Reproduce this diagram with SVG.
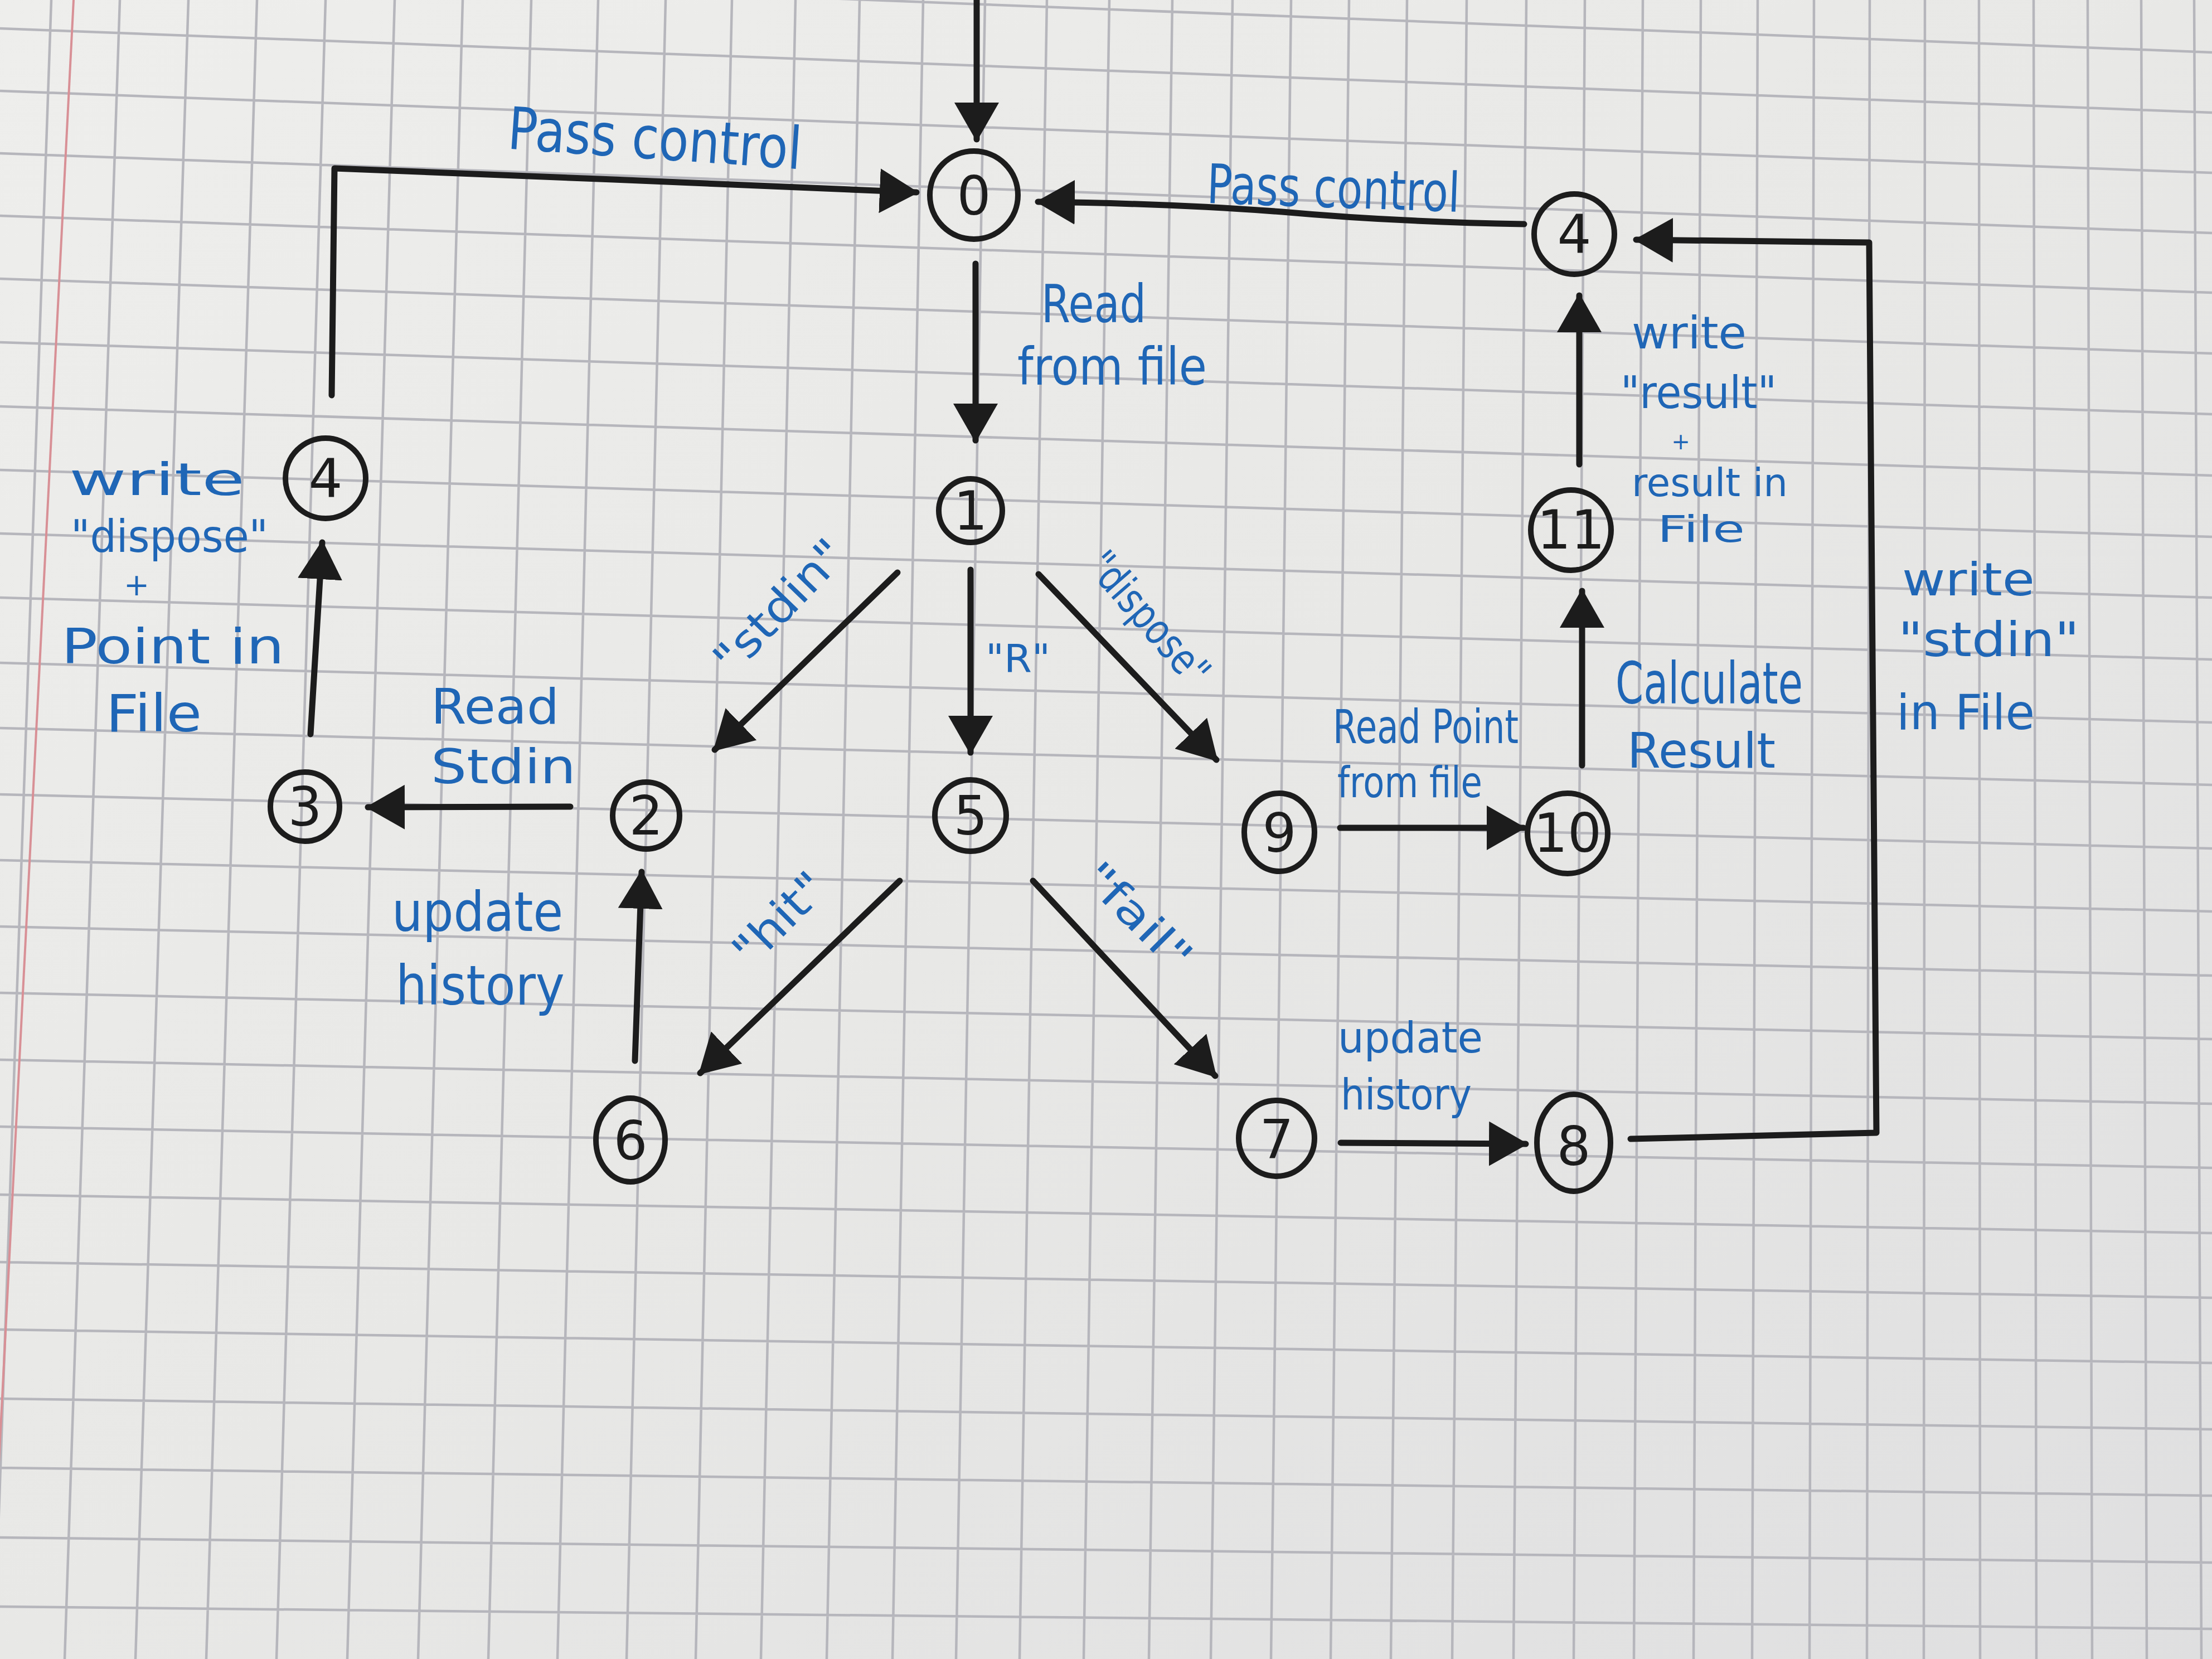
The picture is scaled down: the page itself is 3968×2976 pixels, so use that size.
<svg xmlns="http://www.w3.org/2000/svg" width="3968" height="2976" viewBox="0 0 3968 2976">
<defs>
<linearGradient id="paper" x1="0" y1="0" x2="1" y2="1">
<stop offset="0" stop-color="#EEEEEC"/>
<stop offset="0.5" stop-color="#E8E8E6"/>
<stop offset="1" stop-color="#DFDFE0"/>
</linearGradient>
<marker id="ah" viewBox="0 0 70 80" refX="66" refY="40" markerWidth="70" markerHeight="80" markerUnits="userSpaceOnUse" orient="auto">
<path d="M0,0 L70,40 L0,80 Z" fill="#1C1C1C"/>
</marker>
<style>
.grid{fill:none;stroke:#B6B6BC;stroke-width:4.5}
.margin{fill:none;stroke:#D89096;stroke-width:4}
.node circle,.node ellipse{fill:none;stroke:#1C1C1C;stroke-width:10}
.node text{font-family:"DejaVu Sans","Liberation Sans",sans-serif;fill:#1C1C1C;text-anchor:middle;font-size:96px}
.edge{fill:none;stroke:#1C1C1C;stroke-width:11;stroke-linecap:round;stroke-linejoin:round;marker-end:url(#ah)}
.lbl{font-family:"DejaVu Sans","Liberation Sans",sans-serif;fill:#1F66B6}
</style>
</defs>
<rect x="0" y="0" width="3968" height="2976" fill="url(#paper)"/>
<path class="grid" d="M0,-61L3968,94M0,51L3968,202M0,163L3968,310M0,275L3968,418M0,387L3968,525M0,500L3968,634M0,614L3968,743M0,729L3968,853M0,843L3968,963M0,957L3968,1072M0,1072L3968,1183M0,1189L3968,1296M0,1306L3968,1408M0,1425L3968,1522M0,1543L3968,1635M0,1662L3968,1750M0,1781L3968,1864M0,1901L3968,1980M0,2021L3968,2095M0,2143L3968,2212M0,2264L3968,2328M0,2385L3968,2445M0,2509L3968,2564M0,2633L3968,2683M0,2758L3968,2803M0,2882L3968,2922
M92,0L-11,2976M215,0L116,2976M338,0L243,2976M461,0L370,2976M584,0L496,2976M708,0L623,2976M830,0L750,2976M953,0L876,2976M1073,0L1000,2976M1194,0L1124,2976M1313,0L1248,2976M1427,0L1365,2976M1542,0L1483,2976M1656,0L1601,2976M1767,0L1715,2976M1878,0L1829,2976M1990,0L1944,2976M2103,0L2061,2976M2211,0L2172,2976M2316,0L2280,2976M2420,0L2387,2976M2524,0L2495,2976M2631,0L2605,2976M2738,0L2715,2976M2843,0L2823,2976M2947,0L2931,2976M3051,0L3038,2976M3153,0L3143,2976M3254,0L3246,2976M3354,0L3349,2976M3453,0L3451,2976M3550,0L3552,2976M3648,0L3653,2976M3745,0L3753,2976M3841,0L3851,2976M3936,0L3949,2976"/>
<path class="margin" d="M132,0L-20,2976"/>

<g id="connectors">
<path class="edge" d="M1752,0 L1752,250"/>
<path class="edge" d="M595,709 L600,302 L1100,322 L1644,345"/>
<path class="edge" d="M2734,402 Q2500,398 2300,380 Q2100,365 1862,362"/>
<path class="edge" d="M2925,2043 L3366,2032 L3353,435 L2935,430"/>
<path class="edge" d="M1750,473 L1750,790"/>
<path class="edge" d="M1610,1027 L1282,1345"/>
<path class="edge" d="M1741,1022 L1741,1350"/>
<path class="edge" d="M1863,1030 L2182,1363"/>
<path class="edge" d="M1023,1447 L660,1448"/>
<path class="edge" d="M557,1317 L578,973"/>
<path class="edge" d="M1139,1903 L1151,1564"/>
<path class="edge" d="M1614,1580 L1256,1925"/>
<path class="edge" d="M1853,1580 L2180,1930"/>
<path class="edge" d="M2405,2050 L2737,2052"/>
<path class="edge" d="M2404,1485 L2733,1485"/>
<path class="edge" d="M2838,1373 L2838,1060"/>
<path class="edge" d="M2833,833 L2833,530"/>
</g>

<g id="n0" class="node"><circle cx="1747" cy="350" r="79"/><text x="1747" y="385">0</text></g>
<g id="n1" class="node"><circle cx="1741" cy="916" r="57"/><text x="1741" y="950" font-size="86">1</text></g>
<g id="n2" class="node"><circle cx="1159" cy="1463" r="60"/><text x="1159" y="1497" font-size="86">2</text></g>
<g id="n3" class="node"><circle cx="547" cy="1447" r="62"/><text x="547" y="1481" font-size="86">3</text></g>
<g id="n4a" class="node"><circle cx="584" cy="858" r="72"/><text x="584" y="892" font-size="86">4</text></g>
<g id="n5" class="node"><circle cx="1741" cy="1463" r="64"/><text x="1741" y="1497" font-size="86">5</text></g>
<g id="n6" class="node"><ellipse cx="1131" cy="2045" rx="62" ry="75"/><text x="1131" y="2080" font-size="90">6</text></g>
<g id="n7" class="node"><circle cx="2290" cy="2042" r="68"/><text x="2290" y="2077" font-size="90">7</text></g>
<g id="n8" class="node"><ellipse cx="2823" cy="2050" rx="66" ry="87"/><text x="2823" y="2090" font-size="100">8</text></g>
<g id="n9" class="node"><ellipse cx="2295" cy="1493" rx="63" ry="70"/><text x="2295" y="1528" font-size="90">9</text></g>
<g id="n10" class="node"><circle cx="2812" cy="1495" r="72"/><text x="2812" y="1528" font-size="80">10</text></g>
<g id="n11" class="node"><circle cx="2818" cy="951" r="72"/><text x="2818" y="984" font-size="80">11</text></g>
<g id="n4b" class="node"><circle cx="2824" cy="420" r="72"/><text x="2824" y="454" font-size="90">4</text></g>

<g id="labels">
<text class="lbl" x="910" y="285" font-size="105" textLength="528" lengthAdjust="spacingAndGlyphs" transform="rotate(4 1174 260)">Pass control</text>
<text class="lbl" x="2165" y="372" font-size="98" textLength="454" lengthAdjust="spacingAndGlyphs" transform="rotate(2 2392 340)">Pass control</text>
<text class="lbl" x="1868" y="578" font-size="95" textLength="188" lengthAdjust="spacingAndGlyphs">Read</text>
<text class="lbl" x="1825" y="690" font-size="92" textLength="340" lengthAdjust="spacingAndGlyphs">from file</text>
<text class="lbl" x="1400" y="1115" font-size="80" text-anchor="middle" textLength="300" lengthAdjust="spacingAndGlyphs" transform="rotate(-46 1400 1090)">"stdin"</text>
<text class="lbl" x="1768" y="1205" font-size="70" textLength="116" lengthAdjust="spacingAndGlyphs">"R"</text>
<text class="lbl" x="2060" y="1135" font-size="76" text-anchor="middle" textLength="290" lengthAdjust="spacingAndGlyphs" transform="rotate(49 2060 1110)">"dispose"</text>
<text class="lbl" x="773" y="1298" font-size="88" textLength="230" lengthAdjust="spacingAndGlyphs">Read</text>
<text class="lbl" x="773" y="1405" font-size="85" textLength="260" lengthAdjust="spacingAndGlyphs">Stdin</text>
<text class="lbl" x="703" y="1670" font-size="98" textLength="307" lengthAdjust="spacingAndGlyphs">update</text>
<text class="lbl" x="710" y="1802" font-size="98" textLength="303" lengthAdjust="spacingAndGlyphs">history</text>
<text class="lbl" x="124" y="888" font-size="80" textLength="315" lengthAdjust="spacingAndGlyphs">write</text>
<text class="lbl" x="127" y="990" font-size="80" textLength="354" lengthAdjust="spacingAndGlyphs">"dispose"</text>
<text class="lbl" x="245" y="1068" font-size="55" text-anchor="middle">+</text>
<text class="lbl" x="110" y="1190" font-size="88" textLength="400" lengthAdjust="spacingAndGlyphs">Point in</text>
<text class="lbl" x="190" y="1312" font-size="92" textLength="172" lengthAdjust="spacingAndGlyphs">File</text>
<text class="lbl" x="1400" y="1675" font-size="80" text-anchor="middle" textLength="200" lengthAdjust="spacingAndGlyphs" transform="rotate(-45 1400 1650)">"hit"</text>
<text class="lbl" x="2040" y="1670" font-size="76" text-anchor="middle" textLength="240" lengthAdjust="spacingAndGlyphs" transform="rotate(45 2040 1645)">"fail"</text>
<text class="lbl" x="2391" y="1333" font-size="84" textLength="333" lengthAdjust="spacingAndGlyphs">Read Point</text>
<text class="lbl" x="2399" y="1430" font-size="76" textLength="260" lengthAdjust="spacingAndGlyphs">from file</text>
<text class="lbl" x="2898" y="1262" font-size="104" textLength="336" lengthAdjust="spacingAndGlyphs">Calculate</text>
<text class="lbl" x="2919" y="1377" font-size="88" textLength="266" lengthAdjust="spacingAndGlyphs">Result</text>
<text class="lbl" x="2927" y="625" font-size="80" textLength="206" lengthAdjust="spacingAndGlyphs">write</text>
<text class="lbl" x="2907" y="732" font-size="80" textLength="280" lengthAdjust="spacingAndGlyphs">"result"</text>
<text class="lbl" x="3015" y="806" font-size="40" text-anchor="middle">+</text>
<text class="lbl" x="2927" y="890" font-size="70" textLength="280" lengthAdjust="spacingAndGlyphs">result in</text>
<text class="lbl" x="2973" y="972" font-size="66" textLength="157" lengthAdjust="spacingAndGlyphs">File</text>
<text class="lbl" x="3412" y="1068" font-size="82" textLength="238" lengthAdjust="spacingAndGlyphs">write</text>
<text class="lbl" x="3405" y="1177" font-size="86" textLength="325" lengthAdjust="spacingAndGlyphs">"stdin"</text>
<text class="lbl" x="3402" y="1308" font-size="88" textLength="248" lengthAdjust="spacingAndGlyphs">in File</text>
<text class="lbl" x="2400" y="1888" font-size="76" textLength="260" lengthAdjust="spacingAndGlyphs">update</text>
<text class="lbl" x="2405" y="1990" font-size="76" textLength="235" lengthAdjust="spacingAndGlyphs">history</text>
</g>
</svg>
